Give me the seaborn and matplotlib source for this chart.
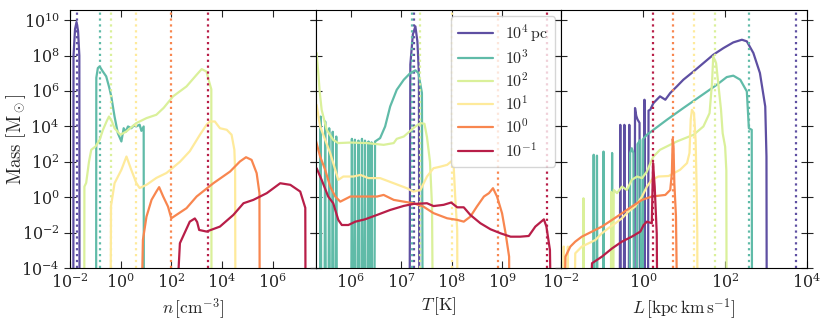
import numpy as np
import matplotlib
matplotlib.use("Agg")
import matplotlib.pyplot as plt
from matplotlib.ticker import NullLocator
import pandas as pd
import seaborn as sns

# log10 of the mass used for an empty histogram bin (drops below the axis)
Z = -12

LABELS = [r"$10^4\,\mathrm{pc}$", r"$10^3$", r"$10^2$", r"$10^1$", r"$10^0$", r"$10^{-1}$"]

# ---------------------------------------------------------------------------
# Density panel: (log10 n, log10 M) per smoothing scale
# ---------------------------------------------------------------------------
n_r4 = [(-1.87, Z), (-1.86, 8.0), (-1.80, 9.5), (-1.74, 9.9), (-1.68, 9.4), (-1.63, 8.0), (-1.62, Z)]
n_r3 = [(-0.97, Z), (-0.96, 6.75), (-0.90, 7.3), (-0.83, 7.39), (-0.70, 7.1), (-0.57, 6.83), (-0.45, 6.2),
        (-0.37, 5.7), (-0.24, 4.56), (-0.11, 3.62), (0.03, 3.15), (0.12, 3.9), (0.20, 3.7), (0.29, 4.0),
        (0.42, 3.9), (0.52, 4.05), (0.62, 4.0), (0.75, 4.1), (0.82, 3.75), (0.91, 4.0), (0.92, Z)]
n_r2 = [(-1.44, Z), (-1.43, 0.6), (-1.36, 0.81), (-1.25, 2.0), (-1.16, 2.68), (-0.99, 2.87), (-0.83, 3.24),
        (-0.70, 3.8), (-0.55, 4.3), (-0.46, 4.56), (-0.35, 4.3), (-0.24, 3.9), (-0.01, 3.53), (0.22, 3.71),
        (0.62, 4.19), (1.02, 4.47), (1.41, 4.66), (1.70, 5.05), (2.07, 5.7), (2.60, 6.26), (3.00, 6.92),
        (3.20, 7.24), (3.39, 7.1), (3.50, 6.5), (3.58, 6.1), (3.59, Z)]
n_r1 = [(-0.41, Z), (-0.38, -0.5), (-0.24, 0.79), (0.03, 1.55), (0.23, 2.3), (0.42, 1.55), (0.62, 0.8),
        (0.75, 0.52), (1.02, 0.7), (1.41, 1.09), (1.81, 1.37), (2.34, 2.0), (2.73, 2.6), (3.13, 3.53),
        (3.39, 4.09), (3.52, 4.28), (3.72, 4.28), (3.92, 3.9), (4.19, 3.81), (4.38, 3.53), (4.49, 2.68),
        (4.52, 1.5), (4.54, Z)]
n_r0 = [(0.74, Z), (0.88, -2.41), (1.02, -1.1), (1.22, -0.15), (1.41, 0.32), (1.52, 0.57), (1.68, 0.04),
        (1.87, -0.53), (2.00, -1.19), (2.20, -1.0), (2.60, -0.62), (3.00, 0.04), (3.66, 0.79), (4.32, 1.45),
        (4.71, 2.02), (4.95, 2.26), (5.17, 2.11), (5.37, 1.36), (5.48, 0.23), (5.50, Z)]
n_rm1 = [(2.00, Z), (2.34, -2.6), (2.73, -1.38), (2.93, -1.2), (3.02, -1.4), (3.10, -1.85), (3.39, -1.94),
         (3.92, -1.66), (4.45, -1.0), (4.85, -0.34), (5.24, -0.15), (5.77, 0.23), (6.30, 0.79), (6.70, 0.7),
         (7.09, 0.32), (7.29, -0.6), (7.31, Z)]
n_marks = [-1.74, -0.83, -0.37, 0.59, 1.97, 3.46]

# ---------------------------------------------------------------------------
# Temperature panel: (log10 T, log10 M)
# ---------------------------------------------------------------------------
t_r4 = [(7.16, Z), (7.18, 7.5), (7.23, 9.2), (7.28, 9.66), (7.32, 8.8), (7.35, 7.0), (7.36, Z)]
t_r3 = [(5.38, Z), (5.40, 4.56), (5.42, Z), (5.47, Z), (5.49, 4.28), (5.51, Z), (5.55, Z), (5.57, 3.9),
        (5.59, Z), (5.62, Z), (5.64, 3.7), (5.66, Z), (5.69, Z), (5.71, 3.43), (5.73, Z),
        (6.00, Z), (6.02, 3.3), (6.04, Z), (6.06, Z), (6.08, 3.25), (6.10, Z), (6.13, Z), (6.15, 3.2),
        (6.17, Z), (6.20, Z), (6.22, 3.3), (6.24, Z), (6.26, Z), (6.28, 3.2), (6.30, Z), (6.33, Z),
        (6.35, 3.15), (6.37, Z), (6.39, Z), (6.41, 3.1), (6.43, Z), (6.46, Z), (6.48, 3.15), (6.58, 3.34),
        (6.68, 4.0), (6.78, 5.13), (6.91, 6.07), (7.05, 6.64), (7.18, 7.02), (7.28, 7.17), (7.34, 7.02),
        (7.41, 5.89), (7.43, Z)]
t_r2 = [(5.32, 8.15), (5.36, 6.8), (5.38, 6.0), (5.42, 4.94), (5.52, 3.81), (5.65, 3.24), (5.75, 3.06),
        (5.99, 3.09), (6.32, 3.06), (6.65, 2.96), (6.85, 3.06), (6.91, 3.3), (7.05, 3.43), (7.18, 3.75),
        (7.28, 4.0), (7.38, 4.19), (7.46, 4.15), (7.51, 3.4), (7.57, 2.0), (7.61, -0.5), (7.64, Z)]
t_r1 = [(5.32, 5.22), (5.39, 4.0), (5.49, 3.24), (5.59, 2.49), (5.69, 1.55), (5.75, 0.98), (5.85, 1.17),
        (6.05, 1.17), (6.19, 1.26), (6.35, 1.08), (6.58, 1.08), (6.85, 0.79), (7.11, 0.51), (7.24, 0.32),
        (7.38, 0.41), (7.51, 1.17), (7.64, 1.64), (7.78, 1.73), (7.91, 1.83), (7.99, 2.02), (8.04, 1.73),
        (8.07, 0.04), (8.11, -1.85), (8.12, Z)]
t_r0 = [(5.31, 3.15), (5.39, 2.3), (5.49, 1.55), (5.59, 0.6), (5.69, 0.04), (5.79, -0.25), (5.99, 0.04),
        (6.19, 0.04), (6.52, 0.04), (6.65, 0.13), (6.85, -0.15), (7.05, -0.25), (7.24, -0.34), (7.44, -0.53),
        (7.64, -0.9), (7.91, -1.19), (8.11, -1.28), (8.24, -1.38), (8.37, -1.1), (8.50, -0.53), (8.64, 0.04),
        (8.74, 0.23), (8.82, 0.51), (8.90, 0.04), (9.00, -0.91), (9.07, -2.04), (9.14, -3.36), (9.15, Z)]
t_rm1 = [(5.32, 1.64), (5.42, 0.98), (5.55, 0.04), (5.65, -0.34), (5.75, -1.28), (5.82, -1.57), (5.95, -1.57),
         (6.09, -1.38), (6.28, -1.25), (6.52, -1.0), (6.78, -0.72), (7.05, -0.49), (7.24, -0.38), (7.51, -0.34),
         (7.64, -0.5), (7.84, -0.43), (7.99, -0.3), (8.11, -0.57), (8.24, -0.57), (8.37, -1.0), (8.57, -1.47),
         (8.77, -1.81), (8.97, -2.04), (9.17, -2.23), (9.36, -2.23), (9.53, -2.19), (9.66, -1.66), (9.83, -1.25),
         (9.88, -1.66), (9.95, -2.98), (10.0, Z)]
t_marks = [7.25, 7.21, 7.38, 8.0, 8.92, 9.9]

# ---------------------------------------------------------------------------
# Angular momentum panel: (log10 L, log10 M)
# ---------------------------------------------------------------------------
l_r4 = [(-0.58, Z), (-0.56, 4.09), (-0.54, Z), (-0.48, Z), (-0.46, 4.09), (-0.44, Z), (-0.36, Z),
        (-0.34, 4.09), (-0.32, Z), (-0.22, Z), (-0.20, 5.04), (-0.17, 4.6), (-0.14, 4.4), (-0.09, 4.2),
        (-0.07, Z), (0.01, Z), (0.03, 5.51), (0.05, Z), (0.11, Z), (0.13, 4.9), (0.17, 4.94), (0.25, 5.32),
        (0.41, 5.7), (0.54, 5.51), (0.66, 5.89), (0.82, 6.26), (0.98, 6.64), (1.23, 7.11), (1.47, 7.58),
        (1.71, 8.05), (1.96, 8.43), (2.20, 8.75), (2.41, 8.9), (2.53, 8.81), (2.69, 8.15), (2.85, 7.02),
        (2.98, 5.13), (3.01, 2.3), (3.02, Z)]
l_r3 = [(-1.23, Z), (-1.21, 2.4), (-1.19, Z), (-1.15, Z), (-1.13, 2.35), (-1.11, Z), (-0.99, Z), (-0.97, 2.58),
        (-0.95, Z), (-0.78, Z), (-0.76, 2.5), (-0.74, Z), (-0.34, Z), (-0.32, 2.5), (-0.28, 2.77), (-0.24, 2.5),
        (-0.22, Z), (-0.16, Z), (-0.14, 3.0), (-0.07, 3.24), (-0.05, Z), (-0.02, Z), (0.0, 3.3), (0.09, 3.53),
        (0.25, 3.81), (0.58, 4.38), (0.98, 5.04), (1.39, 5.7), (1.80, 6.36), (2.04, 6.79), (2.20, 6.87),
        (2.37, 6.64), (2.53, 5.98), (2.58, 3.9), (2.65, 3.81), (2.66, Z)]
l_r2 = [(-1.48, Z), (-1.46, -0.06), (-1.44, Z), (-0.80, Z), (-0.78, 0.3), (-0.76, Z), (-0.74, Z), (-0.72, 0.41),
        (-0.64, 0.23), (-0.52, 0.6), (-0.40, 0.41), (-0.28, 0.98), (-0.15, 1.17), (-0.03, 1.08), (0.09, 1.45),
        (0.17, 1.9), (0.25, 2.3), (0.41, 2.68), (0.82, 3.15), (1.23, 3.53), (1.47, 4.0), (1.62, 4.75),
        (1.68, 6.45), (1.71, 7.96), (1.78, 7.58), (1.84, 6.26), (1.90, 4.94), (1.94, 3.62), (2.00, 2.86),
        (2.03, 1.5), (2.04, Z)]
l_r1 = [(-1.96, Z), (-1.94, -2.79), (-1.92, Z), (-1.86, Z), (-1.84, -2.79), (-1.82, Z), (-1.70, Z),
        (-1.66, -3.17), (-1.50, -2.79), (-1.33, -2.6), (-1.17, -2.42), (-1.01, -2.04), (-0.85, -1.75),
        (-0.68, -1.47), (-0.52, -1.19), (-0.36, -0.81), (-0.20, -0.53), (-0.03, 0.04), (0.09, 0.6),
        (0.21, 0.98), (0.37, 1.17), (0.62, 1.2), (0.90, 1.55), (1.07, 1.93), (1.13, 2.5), (1.16, 4.4),
        (1.19, 4.94), (1.24, 4.75), (1.28, 3.2), (1.30, 1.0), (1.32, -2.0), (1.33, Z)]
l_r0 = [(-1.97, Z), (-1.90, -3.36), (-1.78, -2.79), (-1.66, -2.51), (-1.50, -2.23), (-1.25, -1.94),
        (-1.01, -1.66), (-0.76, -1.28), (-0.52, -0.91), (-0.28, -0.53), (-0.03, -0.15), (0.21, 0.04),
        (0.54, 0.13), (0.66, 0.41), (0.70, 1.36), (0.72, 3.3), (0.74, 2.86), (0.76, 0.79), (0.80, -1.1),
        (0.86, Z)]
l_rm1 = [(-1.41, Z), (-1.25, -3.73), (-1.01, -3.36), (-0.76, -2.89), (-0.52, -2.51), (-0.28, -2.23),
         (-0.07, -1.94), (0.01, -1.57), (0.09, -1.38), (0.21, -1.47), (0.24, 1.93), (0.28, 0.6),
         (0.33, -2.04), (0.36, Z)]
l_marks = [3.73, 2.59, 1.76, 1.23, 0.72, 0.23]

panels = [
    ([n_r4, n_r3, n_r2, n_r1, n_r0, n_rm1], n_marks),
    ([t_r4, t_r3, t_r2, t_r1, t_r0, t_rm1], t_marks),
    ([l_r4, l_r3, l_r2, l_r1, l_r0, l_rm1], l_marks),
]
xlims = [(1e-2, 5e7), (2e5, 1.5e10), (1e-2, 1e4)]
xticks = [[1e-2, 1e0, 1e2, 1e4, 1e6], [1e6, 1e7, 1e8, 1e9], [1e-2, 1e0, 1e2, 1e4]]
xlabels = [r"$n\,[\mathrm{cm}^{-3}]$", r"$T\,[\mathrm{K}]$", r"$L\,[\mathrm{kpc\,km\,s}^{-1}]$"]

sns.set_style("ticks")
plt.rcParams.update({
    "mathtext.fontset": "cm",
    "font.family": ["DejaVu Serif"],
    "axes.formatter.use_mathtext": True,
    "font.size": 11,
})

colors = plt.get_cmap("Spectral")(np.linspace(1.0, 0.05, 6))

fig, axes = plt.subplots(1, 3, figsize=(8.3, 3.21), dpi=100, sharey=True)
fig.subplots_adjust(left=0.0843, right=0.9723, top=0.9688, bottom=0.1651, wspace=0)

for i, (ax, (series, marks)) in enumerate(zip(axes, panels)):
    ax.set_xscale("log")
    ax.set_yscale("log")
    for j, pts in enumerate(series):
        df = pd.DataFrame(pts, columns=["logx", "logm"])
        sns.lineplot(x=10.0 ** df["logx"], y=10.0 ** df["logm"], ax=ax, color=colors[j], lw=1.6,
                     sort=False, estimator=None, label=LABELS[j] if i == 1 else None, legend=False)
        ax.axvline(10.0 ** marks[j], color=colors[j], ls=":", lw=1.6)
    ax.set_xlim(*xlims[i])
    ax.set_ylim(1e-4, 3.8e10)
    ax.set_xticks(xticks[i])
    ax.set_yticks([10.0 ** k for k in range(-4, 11, 2)])
    ax.xaxis.set_minor_locator(NullLocator())
    ax.yaxis.set_minor_locator(NullLocator())
    ax.tick_params(axis="x", direction="in", top=True, bottom=True, length=5, labelsize=11.5)
    ax.tick_params(axis="y", direction="inout", left=True, right=True, length=8, labelsize=11.5)
    ax.set_xlabel(xlabels[i], fontsize=12.5, labelpad=3)
    ax.set_ylabel("")
    for sp in ax.spines.values():
        sp.set_color("black")

axes[0].set_ylabel(r"$\mathrm{Mass}\ [\mathrm{M}_\odot]$", fontsize=13.5)
axes[0].yaxis.set_label_coords(-0.17, 0.5)
axes[1].legend(loc="upper right", fontsize=11.5, handlelength=2.2, labelspacing=0.3,
               borderaxespad=0.4)

fig.savefig("out.png", dpi=100)
